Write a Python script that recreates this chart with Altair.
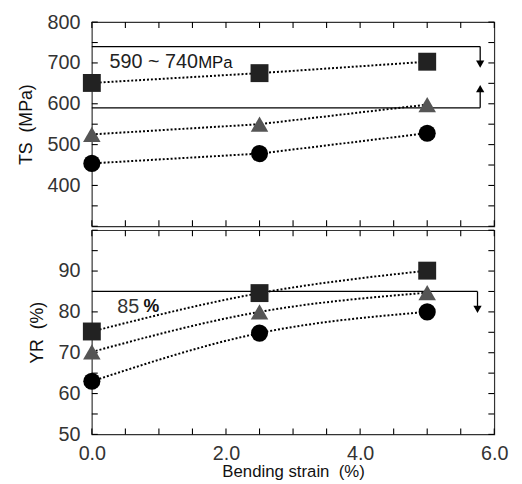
import altair as alt
import pandas as pd

# ---------------- data ----------------
strain = [0.0, 2.5, 5.0]
series = ["square", "triangle", "circle"]
ts_square = [651, 675, 703]
ts_triangle = [525, 550, 598]
ts_circle = [454, 478, 528]
yr_square = [75.2, 84.6, 90.1]
yr_triangle = [70.2, 80.0, 84.7]
yr_circle = [63.0, 74.8, 80.0]

ts_bounds = [590, 740]
ts_bound_end = 5.79
ts_arrow_tips = [697, 637]       # down arrow from 740, up arrow from 590
yr_bound = [85]
yr_bound_end = 5.75
yr_arrow_tip = [80.6]

x_ticks = [i * 0.5 for i in range(13)]
ts_ticks = list(range(300, 801, 50))
yr_ticks = list(range(50, 101, 5))

# ---------------- tables ----------------
def make_df(a, b, c):
    rows = []
    for s, vals in zip(series, [a, b, c]):
        for x, v in zip(strain, vals):
            rows.append({"x": x, "v": v, "s": s})
    return pd.DataFrame(rows)

ts_df = make_df(ts_square, ts_triangle, ts_circle)
yr_df = make_df(yr_square, yr_triangle, yr_circle)

W, H = 408, 207
TL = 6  # inward tick length (px)
FONT = "Liberation Sans"
SP = "\u00a0 "

xs = alt.Scale(domain=[0, 6], nice=False, zero=False)

shape_scale = alt.Scale(domain=series, range=["square", "triangle-up", "circle"])
color_scale = alt.Scale(domain=series, range=["#222222", "#555555", "#000000"])
size_scale = alt.Scale(domain=series, range=[330, 300, 290])


def tick_layers(ys, yticks):
    ydf = pd.DataFrame({"t": yticks})
    xdf = pd.DataFrame({"t": x_ticks})
    ty = alt.Chart(ydf)
    tx = alt.Chart(xdf)
    kw = dict(color="black", strokeWidth=1.1)
    return [
        ty.mark_rule(**kw).encode(y=alt.Y("t:Q", scale=ys, axis=None),
                                  x=alt.value(0), x2=alt.value(TL)),
        ty.mark_rule(**kw).encode(y=alt.Y("t:Q", scale=ys, axis=None),
                                  x=alt.value(W - TL), x2=alt.value(W)),
        tx.mark_rule(**kw).encode(x=alt.X("t:Q", scale=xs, axis=None),
                                  y=alt.value(0), y2=alt.value(TL)),
        tx.mark_rule(**kw).encode(x=alt.X("t:Q", scale=xs, axis=None),
                                  y=alt.value(H - TL), y2=alt.value(H)),
    ]


def panel(df, ydom, yticks, ylabel_expr, ytitle, xaxis_bottom, extra):
    ys = alt.Scale(domain=ydom, nice=False, zero=False)
    left_axis = alt.Axis(orient="left", values=yticks, labelExpr=ylabel_expr, ticks=False,
                         domain=False, grid=False, labelFontSize=20,
                         labelColor="#333", labelPadding=12, labelFont=FONT,
                         title=ytitle, titleFontSize=18, titleFont=FONT,
                         titleFontWeight="normal", titlePadding=12, titleColor="#111")
    base = alt.Chart(df)
    lines = base.mark_line(strokeDash=[2, 2], color="black", strokeWidth=2,
                           interpolate=extra["interp"]).encode(
        x=alt.X("x:Q", scale=xs, axis=xaxis_bottom),
        y=alt.Y("v:Q", scale=ys, axis=left_axis),
        detail="s:N",
    )
    pts = base.mark_point(filled=True, opacity=1).encode(
        x=alt.X("x:Q", scale=xs, axis=None),
        y=alt.Y("v:Q", scale=ys, axis=None),
        shape=alt.Shape("s:N", scale=shape_scale, legend=None),
        color=alt.Color("s:N", scale=color_scale, legend=None),
        size=alt.Size("s:N", scale=size_scale, legend=None),
    )
    layers = [lines] + tick_layers(ys, yticks) + extra["layers"](ys) + [pts]
    return alt.layer(*layers).resolve_axis(x="independent", y="independent").properties(
        width=W, height=H)


# ---------- TS extras ----------
def ts_extra(ys):
    bdf = pd.DataFrame({"x0": [0, 0], "x1": [ts_bound_end] * 2, "y": ts_bounds})
    hl = alt.Chart(bdf).mark_rule(color="black", strokeWidth=1.3).encode(
        x=alt.X("x0:Q", scale=xs, axis=None), x2="x1:Q",
        y=alt.Y("y:Q", scale=ys, axis=None))
    adf = pd.DataFrame({"x": [ts_bound_end] * 2, "y0": [ts_bounds[1], ts_bounds[0]],
                        "y1": ts_arrow_tips,
                        "sh": ["triangle-down", "triangle-up"]})
    vl = alt.Chart(adf).mark_rule(color="black", strokeWidth=1.3).encode(
        x=alt.X("x:Q", scale=xs, axis=None),
        y=alt.Y("y0:Q", scale=ys, axis=None), y2="y1:Q")
    heads = alt.Chart(adf).mark_point(filled=True, color="black", opacity=1, size=70).encode(
        x=alt.X("x:Q", scale=xs, axis=None),
        y=alt.Y("y1:Q", scale=ys, axis=None),
        shape=alt.Shape("sh:N", scale=None, legend=None))
    tdf = pd.DataFrame({"x": [0.265, 1.585], "y": [703, 703], "t": ["590 ~ 740", "MPa"]})
    txt1 = alt.Chart(tdf.iloc[[0]]).mark_text(align="left", baseline="middle", fontSize=20,
                                              font=FONT, color="#222").encode(
        x=alt.X("x:Q", scale=xs, axis=None), y=alt.Y("y:Q", scale=ys, axis=None), text="t:N")
    txt2 = alt.Chart(tdf.iloc[[1]]).mark_text(align="left", baseline="middle", fontSize=17,
                                              font=FONT, color="#111", dy=1).encode(
        x=alt.X("x:Q", scale=xs, axis=None), y=alt.Y("y:Q", scale=ys, axis=None), text="t:N")
    return [hl, vl, heads, txt1, txt2]


def yr_extra(ys):
    bdf = pd.DataFrame({"x0": [0], "x1": [yr_bound_end], "y": yr_bound})
    hl = alt.Chart(bdf).mark_rule(color="black", strokeWidth=1.3).encode(
        x=alt.X("x0:Q", scale=xs, axis=None), x2="x1:Q",
        y=alt.Y("y:Q", scale=ys, axis=None))
    adf = pd.DataFrame({"x": [yr_bound_end], "y0": yr_bound, "y1": yr_arrow_tip})
    vl = alt.Chart(adf).mark_rule(color="black", strokeWidth=1.3).encode(
        x=alt.X("x:Q", scale=xs, axis=None),
        y=alt.Y("y0:Q", scale=ys, axis=None), y2="y1:Q")
    heads = alt.Chart(adf).mark_point(filled=True, color="black", opacity=1, size=70,
                                      shape="triangle-down").encode(
        x=alt.X("x:Q", scale=xs, axis=None),
        y=alt.Y("y1:Q", scale=ys, axis=None))
    tdf = pd.DataFrame({"x": [0.38, 0.77], "y": [81.2, 81.2], "t": ["85", "%"]})
    txt1 = alt.Chart(tdf.iloc[[0]]).mark_text(align="left", baseline="middle", fontSize=20,
                                              font=FONT, color="#333").encode(
        x=alt.X("x:Q", scale=xs, axis=None), y=alt.Y("y:Q", scale=ys, axis=None), text="t:N")
    txt2 = alt.Chart(tdf.iloc[[1]]).mark_text(align="left", baseline="middle", fontSize=18,
                                              font=FONT, fontWeight="bold", color="#111").encode(
        x=alt.X("x:Q", scale=xs, axis=None), y=alt.Y("y:Q", scale=ys, axis=None), text="t:N")
    return [hl, vl, heads, txt1, txt2]


top = panel(ts_df, [300, 800], ts_ticks,
            "datum.value % 100 == 0 && datum.value > 300 ? datum.label : ''",
            "TS" + SP + "(MPa)", None,
            {"interp": "linear", "layers": ts_extra})

bottom_x_axis = alt.Axis(orient="bottom", values=x_ticks,
                         labelExpr="datum.value % 2 == 0 ? format(datum.value, '.1f') : ''",
                         ticks=False, domain=False, grid=False, labelFontSize=20,
                         labelFlush=False, labelColor="#333", labelPadding=9, labelFont=FONT,
                         title="Bending strain" + SP + "(%)", titleFontSize=17, titleFont=FONT,
                         titleFontWeight="normal", titlePadding=1, titleColor="#111")

bottom = panel(yr_df, [50, 100], yr_ticks,
               "datum.value % 10 == 0 && datum.value < 100 ? datum.label : ''",
               "YR" + SP + "(%)", bottom_x_axis,
               {"interp": "monotone", "layers": yr_extra})

chart = alt.vconcat(top, bottom, spacing=0).configure_view(
    stroke="#333", strokeWidth=1.2
).configure_concat(spacing=0).properties(padding={"left": 9, "top": 0, "right": 5, "bottom": 0})

chart.save("out.html", embed_options={"renderer": "svg", "actions": False})
